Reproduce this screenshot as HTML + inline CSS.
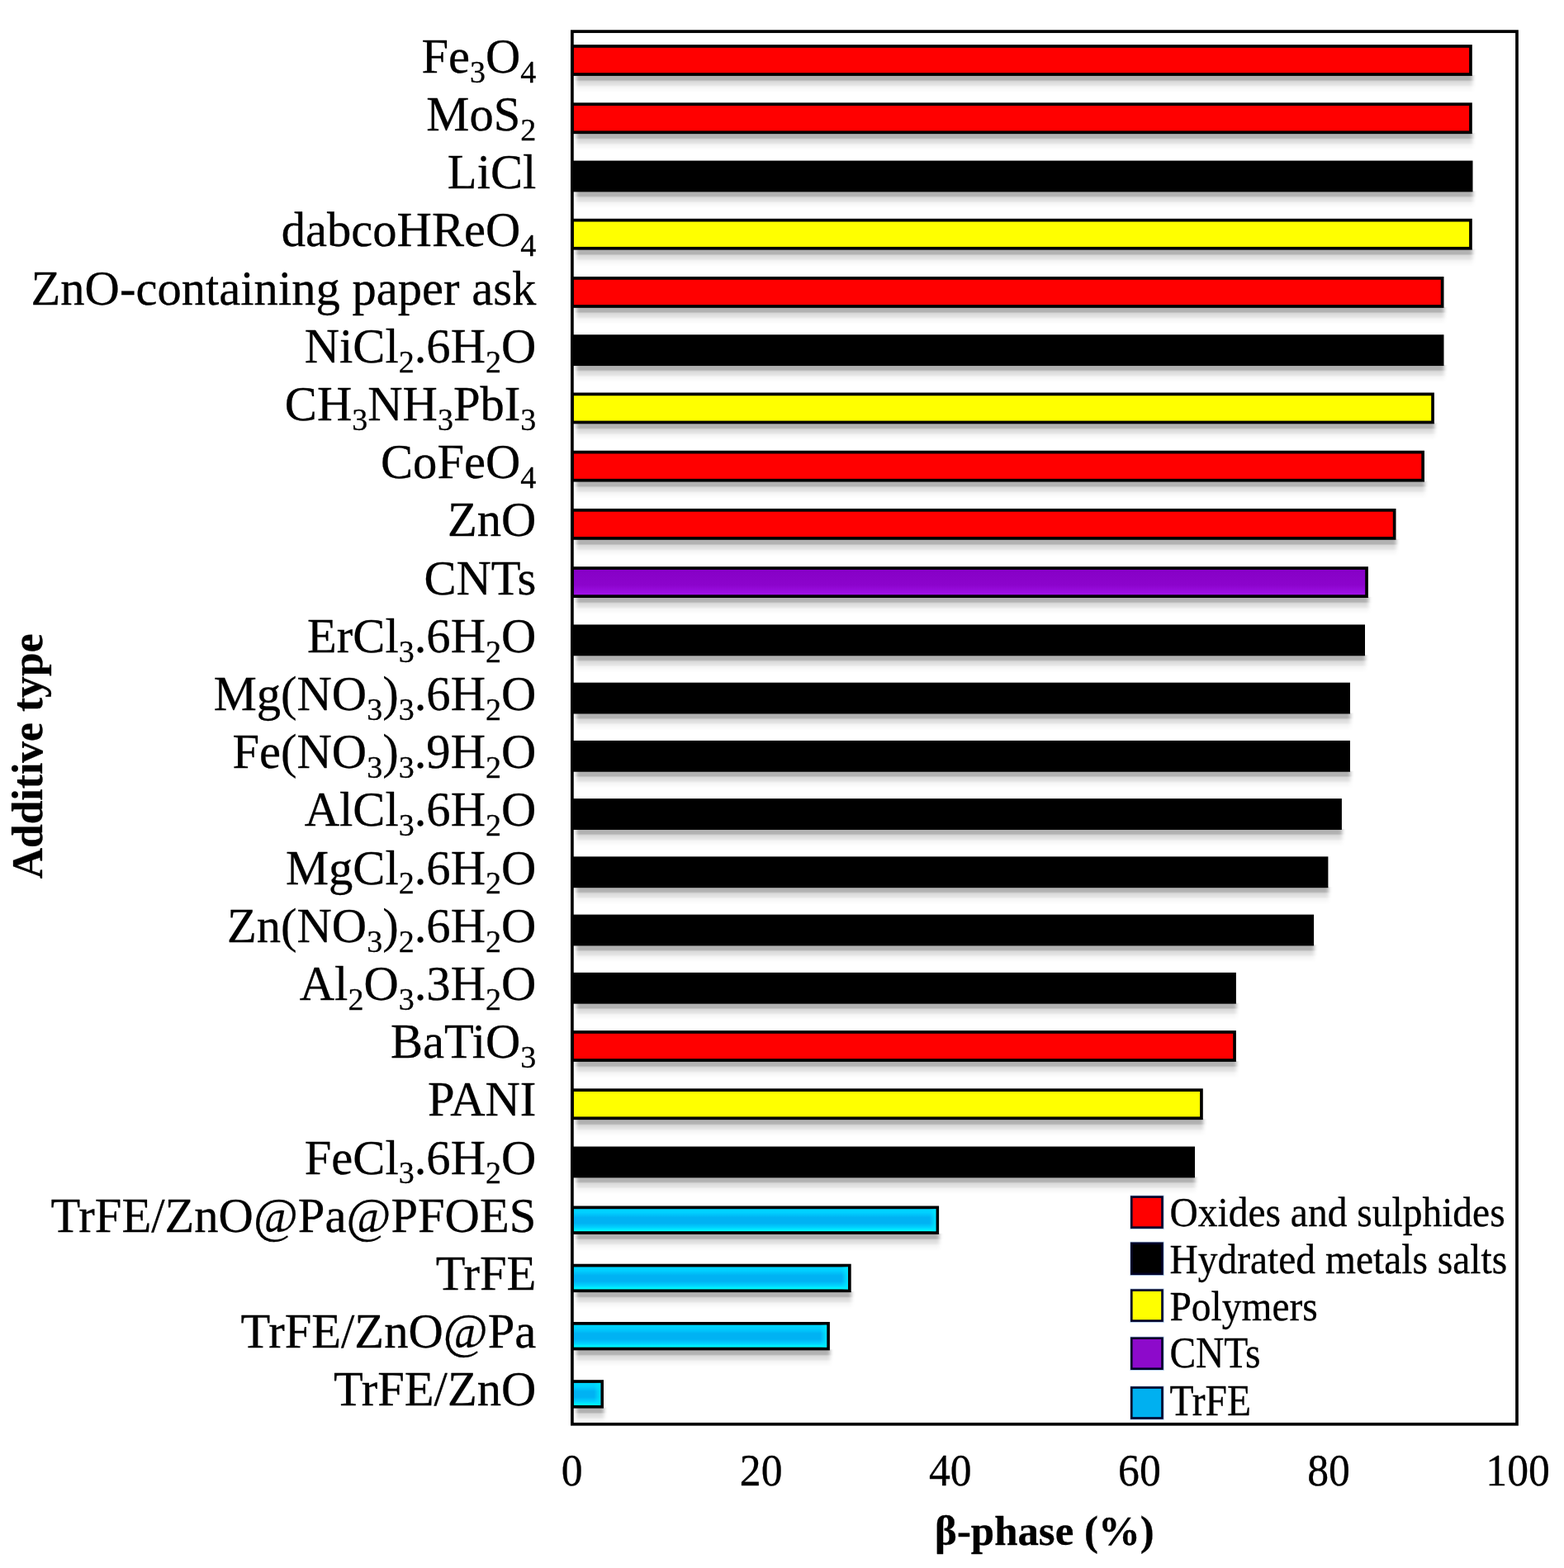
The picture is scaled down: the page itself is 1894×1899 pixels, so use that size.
<!DOCTYPE html>
<html lang="en"><head><meta charset="utf-8"><title>β-phase (%) by additive type</title>
<style>
html,body{margin:0;padding:0;background:#fff}
svg{display:block;width:1894px;height:1899px;filter:blur(0.6px)}
text{font-family:"Liberation Serif","Times New Roman",Times,serif;fill:#000;stroke:#000;stroke-width:0.3px;stroke-linejoin:round}
.cat{font-size:58.6px;text-anchor:end}
.s{font-size:38.0px}
.tick{font-size:53px;text-anchor:middle}
.ttl{font-size:51.4px;font-weight:bold;text-anchor:middle}
.leg text{font-size:47.4px}
</style></head><body>
<svg width="1894" height="1899" viewBox="0 0 1894 1899">
<defs>
<linearGradient id="sh" x1="0" y1="0" x2="0" y2="1"><stop offset="0" stop-color="#000" stop-opacity="0.31"/><stop offset="0.28" stop-color="#000" stop-opacity="0.30"/><stop offset="0.37" stop-color="#000" stop-opacity="0.15"/><stop offset="0.58" stop-color="#000" stop-opacity="0.10"/><stop offset="0.68" stop-color="#000" stop-opacity="0.04"/><stop offset="1" stop-color="#000" stop-opacity="0"/></linearGradient>
<linearGradient id="blue" x1="0" y1="0" x2="0" y2="1"><stop offset="0" stop-color="#00d8ff"/><stop offset="0.2" stop-color="#00d0ff"/><stop offset="0.4" stop-color="#00b2f3"/><stop offset="0.62" stop-color="#00b2f3"/><stop offset="0.8" stop-color="#00d4ff"/><stop offset="0.93" stop-color="#00ffff"/><stop offset="1" stop-color="#00c8d8"/></linearGradient>
<linearGradient id="pur" x1="0" y1="0" x2="0" y2="1"><stop offset="0" stop-color="#8600c6"/><stop offset="0.6" stop-color="#8c04cc"/><stop offset="1" stop-color="#a414ee"/></linearGradient>
<filter id="hb" filterUnits="userSpaceOnUse" x="0" y="0" width="1894" height="1899"><feGaussianBlur stdDeviation="2 0.4"/></filter>
<linearGradient id="bend" x1="0" y1="0" x2="1" y2="0"><stop offset="0" stop-color="#00e8ff" stop-opacity="0"/><stop offset="1" stop-color="#00e8ff" stop-opacity="0.9"/></linearGradient>
</defs>
<rect x="0" y="0" width="1894" height="1899" fill="#fff"/>
<g filter="url(#hb)">
<rect x="697.9" y="90.90" width="1085.4" height="21" fill="url(#sh)"/>
<rect x="697.9" y="161.14" width="1085.4" height="21" fill="url(#sh)"/>
<rect x="697.9" y="231.37" width="1086.1" height="21" fill="url(#sh)"/>
<rect x="697.9" y="301.60" width="1085.4" height="21" fill="url(#sh)"/>
<rect x="697.9" y="371.84" width="1051.1" height="21" fill="url(#sh)"/>
<rect x="697.9" y="442.07" width="1051.1" height="21" fill="url(#sh)"/>
<rect x="697.9" y="512.31" width="1039.5" height="21" fill="url(#sh)"/>
<rect x="697.9" y="582.54" width="1027.6" height="21" fill="url(#sh)"/>
<rect x="697.9" y="652.78" width="993.1" height="21" fill="url(#sh)"/>
<rect x="697.9" y="723.01" width="959.5" height="21" fill="url(#sh)"/>
<rect x="697.9" y="793.25" width="955.6" height="21" fill="url(#sh)"/>
<rect x="697.9" y="863.49" width="937.6" height="21" fill="url(#sh)"/>
<rect x="697.9" y="933.72" width="937.6" height="21" fill="url(#sh)"/>
<rect x="697.9" y="1003.95" width="927.5" height="21" fill="url(#sh)"/>
<rect x="697.9" y="1074.19" width="911.0" height="21" fill="url(#sh)"/>
<rect x="697.9" y="1144.43" width="893.7" height="21" fill="url(#sh)"/>
<rect x="697.9" y="1214.66" width="799.5" height="21" fill="url(#sh)"/>
<rect x="697.9" y="1284.89" width="799.5" height="21" fill="url(#sh)"/>
<rect x="697.9" y="1355.13" width="759.4" height="21" fill="url(#sh)"/>
<rect x="697.9" y="1425.37" width="749.6" height="21" fill="url(#sh)"/>
<rect x="697.9" y="1493.90" width="439.7" height="21" fill="url(#sh)"/>
<rect x="697.9" y="1564.13" width="333.3" height="21" fill="url(#sh)"/>
<rect x="697.9" y="1634.37" width="307.5" height="21" fill="url(#sh)"/>
<rect x="697.9" y="1704.61" width="33.6" height="21" fill="url(#sh)"/>
</g>
<g stroke="#000" stroke-width="3.7">
<rect x="692.90" y="55.95" width="1088.05" height="34.10" fill="#ff0000"/>
<rect x="692.90" y="126.19" width="1088.05" height="34.10" fill="#ff0000"/>
<rect x="692.90" y="196.42" width="1088.75" height="34.10" fill="#000000"/>
<rect x="692.90" y="266.66" width="1088.05" height="34.10" fill="#ffff00"/>
<rect x="692.90" y="336.89" width="1053.75" height="34.10" fill="#ff0000"/>
<rect x="692.90" y="407.13" width="1053.75" height="34.10" fill="#000000"/>
<rect x="692.90" y="477.36" width="1042.15" height="34.10" fill="#ffff00"/>
<rect x="692.90" y="547.60" width="1030.25" height="34.10" fill="#ff0000"/>
<rect x="692.90" y="617.83" width="995.75" height="34.10" fill="#ff0000"/>
<rect x="692.90" y="688.07" width="962.15" height="34.10" fill="url(#pur)"/>
<rect x="692.90" y="758.30" width="958.25" height="34.10" fill="#000000"/>
<rect x="692.90" y="828.54" width="940.25" height="34.10" fill="#000000"/>
<rect x="692.90" y="898.77" width="940.25" height="34.10" fill="#000000"/>
<rect x="692.90" y="969.00" width="930.15" height="34.10" fill="#000000"/>
<rect x="692.90" y="1039.24" width="913.65" height="34.10" fill="#000000"/>
<rect x="692.90" y="1109.47" width="896.35" height="34.10" fill="#000000"/>
<rect x="692.90" y="1179.71" width="802.15" height="34.10" fill="#000000"/>
<rect x="692.90" y="1249.94" width="802.15" height="34.10" fill="#ff0000"/>
<rect x="692.90" y="1320.18" width="762.05" height="34.10" fill="#ffff00"/>
<rect x="692.90" y="1390.41" width="752.25" height="34.10" fill="#000000"/>
<rect x="692.90" y="1462.35" width="442.35" height="30.70" fill="url(#blue)"/>
<rect x="1125.40" y="1464.20" width="8" height="27.00" fill="url(#bend)" stroke="none"/>
<rect x="692.90" y="1532.58" width="335.95" height="30.70" fill="url(#blue)"/>
<rect x="1019.00" y="1534.43" width="8" height="27.00" fill="url(#bend)" stroke="none"/>
<rect x="692.90" y="1602.82" width="310.15" height="30.70" fill="url(#blue)"/>
<rect x="993.20" y="1604.67" width="8" height="27.00" fill="url(#bend)" stroke="none"/>
<rect x="692.90" y="1673.05" width="36.25" height="30.70" fill="url(#blue)"/>
<rect x="719.30" y="1674.90" width="8" height="27.00" fill="url(#bend)" stroke="none"/>
</g>
<rect x="692.9" y="38.1" width="1144.10" height="1686.70" fill="none" stroke="#000" stroke-width="3.7"/>
<g class="cat">
<text x="649.3" y="87.85">Fe<tspan class="s" dy="11.7">3</tspan><tspan dy="-11.7">O</tspan><tspan class="s" dy="11.7">4</tspan></text>
<text x="649.3" y="158.05">MoS<tspan class="s" dy="11.7">2</tspan></text>
<text x="649.3" y="228.25">LiCl</text>
<text x="649.3" y="298.45">dabcoHReO<tspan class="s" dy="11.7">4</tspan></text>
<text x="649.3" y="368.65">ZnO-containing paper ask</text>
<text x="649.3" y="438.85">NiCl<tspan class="s" dy="11.7">2</tspan><tspan dy="-11.7">.6H</tspan><tspan class="s" dy="11.7">2</tspan><tspan dy="-11.7">O</tspan></text>
<text x="649.3" y="509.05">CH<tspan class="s" dy="11.7">3</tspan><tspan dy="-11.7">NH</tspan><tspan class="s" dy="11.7">3</tspan><tspan dy="-11.7">PbI</tspan><tspan class="s" dy="11.7">3</tspan></text>
<text x="649.3" y="579.25">CoFeO<tspan class="s" dy="11.7">4</tspan></text>
<text x="649.3" y="649.45">ZnO</text>
<text x="649.3" y="719.65">CNTs</text>
<text x="649.3" y="789.85">ErCl<tspan class="s" dy="11.7">3</tspan><tspan dy="-11.7">.6H</tspan><tspan class="s" dy="11.7">2</tspan><tspan dy="-11.7">O</tspan></text>
<text x="649.3" y="860.05">Mg(NO<tspan class="s" dy="11.7">3</tspan><tspan dy="-11.7">)</tspan><tspan class="s" dy="11.7">3</tspan><tspan dy="-11.7">.6H</tspan><tspan class="s" dy="11.7">2</tspan><tspan dy="-11.7">O</tspan></text>
<text x="649.3" y="930.25">Fe(NO<tspan class="s" dy="11.7">3</tspan><tspan dy="-11.7">)</tspan><tspan class="s" dy="11.7">3</tspan><tspan dy="-11.7">.9H</tspan><tspan class="s" dy="11.7">2</tspan><tspan dy="-11.7">O</tspan></text>
<text x="649.3" y="1000.45">AlCl<tspan class="s" dy="11.7">3</tspan><tspan dy="-11.7">.6H</tspan><tspan class="s" dy="11.7">2</tspan><tspan dy="-11.7">O</tspan></text>
<text x="649.3" y="1070.65">MgCl<tspan class="s" dy="11.7">2</tspan><tspan dy="-11.7">.6H</tspan><tspan class="s" dy="11.7">2</tspan><tspan dy="-11.7">O</tspan></text>
<text x="649.3" y="1140.85">Zn(NO<tspan class="s" dy="11.7">3</tspan><tspan dy="-11.7">)</tspan><tspan class="s" dy="11.7">2</tspan><tspan dy="-11.7">.6H</tspan><tspan class="s" dy="11.7">2</tspan><tspan dy="-11.7">O</tspan></text>
<text x="649.3" y="1211.05">Al<tspan class="s" dy="11.7">2</tspan><tspan dy="-11.7">O</tspan><tspan class="s" dy="11.7">3</tspan><tspan dy="-11.7">.3H</tspan><tspan class="s" dy="11.7">2</tspan><tspan dy="-11.7">O</tspan></text>
<text x="649.3" y="1281.25">BaTiO<tspan class="s" dy="11.7">3</tspan></text>
<text x="649.3" y="1351.45">PANI</text>
<text x="649.3" y="1421.65">FeCl<tspan class="s" dy="11.7">3</tspan><tspan dy="-11.7">.6H</tspan><tspan class="s" dy="11.7">2</tspan><tspan dy="-11.7">O</tspan></text>
<text x="649.3" y="1491.85">TrFE/ZnO@Pa@PFOES</text>
<text x="649.3" y="1562.05">TrFE</text>
<text x="649.3" y="1632.25">TrFE/ZnO@Pa</text>
<text x="649.3" y="1702.45">TrFE/ZnO</text>
</g>
<g class="tick">
<text transform="translate(692.6,1798.9) scale(0.975,1.02)">0</text>
<text transform="translate(921.7,1798.9) scale(0.975,1.02)">20</text>
<text transform="translate(1150.8,1798.9) scale(0.975,1.02)">40</text>
<text transform="translate(1379.9,1798.9) scale(0.975,1.02)">60</text>
<text transform="translate(1609.0,1798.9) scale(0.975,1.02)">80</text>
<text transform="translate(1838.1,1798.9) scale(0.975,1.02)">100</text>
</g>
<text class="ttl" transform="translate(1264.9,1871.3) scale(0.99,1.0)">β-phase (%)</text>
<text class="ttl" transform="translate(50.8,915.9) rotate(-90) scale(1.005,1.04)">Additive type</text>
<g class="leg">
<rect x="1368.4" y="1447.6" width="41.4" height="41.2" fill="#8fb6e4" opacity="0.7" stroke="none"/>
<rect x="1370.3" y="1449.6" width="37.2" height="37.0" fill="#ff0000" stroke="#000028" stroke-width="2.6"/>
<text transform="translate(1416.4,1485.4) scale(1.002,1.075)">Oxides and sulphides</text>
<rect x="1368.4" y="1503.8" width="41.4" height="41.2" fill="#8fb6e4" opacity="0.7" stroke="none"/>
<rect x="1370.3" y="1505.8" width="37.2" height="37.0" fill="#000000" stroke="#000028" stroke-width="2.6"/>
<text transform="translate(1416.4,1541.7) scale(1.002,1.075)">Hydrated metals salts</text>
<rect x="1368.4" y="1560.6" width="41.4" height="41.2" fill="#8fb6e4" opacity="0.7" stroke="none"/>
<rect x="1370.3" y="1562.6" width="37.2" height="37.0" fill="#ffff00" stroke="#000028" stroke-width="2.6"/>
<text transform="translate(1416.4,1598.8) scale(1.002,1.08)">Polymers</text>
<rect x="1368.4" y="1618.7" width="41.4" height="41.2" fill="#8fb6e4" opacity="0.7" stroke="none"/>
<rect x="1370.3" y="1620.7" width="37.2" height="37.0" fill="#8d0acb" stroke="#000028" stroke-width="2.6"/>
<text transform="translate(1416.4,1656.4) scale(1.002,1.12)">CNTs</text>
<rect x="1368.4" y="1678.5" width="41.4" height="41.2" fill="#8fb6e4" opacity="0.7" stroke="none"/>
<rect x="1370.3" y="1680.5" width="37.2" height="37.0" fill="#00b0f0" stroke="#000028" stroke-width="2.6"/>
<text transform="translate(1416.4,1714.3) scale(1.002,1.1)">TrFE</text>
</g>
</svg>
</body></html>
